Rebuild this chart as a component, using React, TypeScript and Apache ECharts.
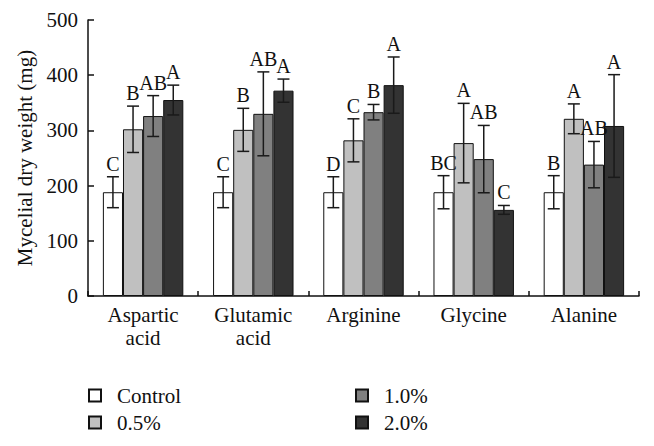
import React, { useEffect, useRef } from "react";
import * as echarts from "echarts";

const categories = ["Aspartic\nacid", "Glutamic\nacid", "Arginine", "Glycine", "Alanine"];
const seriesNames = ["Control", "0.5%", "1.0%", "2.0%"];
const controlValues = [188, 188, 188, 188, 188];
const p05Values = [302, 301, 282, 277, 321];
const p10Values = [326, 330, 333, 248, 238];
const p20Values = [355, 372, 382, 156, 308];
const controlErr = [28, 28, 28, 30, 30];
const p05Err = [42, 39, 39, 72, 27];
const p10Err = [37, 76, 14, 61, 42];
const p20Err = [27, 21, 51, 8, 93];
const controlLetters = ["C", "C", "D", "BC", "B"];
const p05Letters = ["B", "B", "C", "A", "A"];
const p10Letters = ["AB", "AB", "B", "AB", "AB"];
const p20Letters = ["A", "A", "A", "C", "A"];
const yTicks = [0, 100, 200, 300, 400, 500];

const colors = ["#ffffff", "#c0c0c0", "#808080", "#333333"];
const FONT = "Liberation Serif";
const GAP = 0.27;
const legendPos = [
  [88, 385],
  [88, 412],
  [355, 385],
  [355, 412],
];

export default function App() {
  const ref = useRef<HTMLDivElement>(null);
  useEffect(() => {
    if (!ref.current) return;
    document.body.style.margin = "0";
    const chart = echarts.init(ref.current, null, { renderer: "svg" });
    const values = [controlValues, p05Values, p10Values, p20Values];
    const errs = [controlErr, p05Err, p10Err, p20Err];
    const letters = [controlLetters, p05Letters, p10Letters, p20Letters];

    const barSeries = seriesNames.map((name, i) => ({
      name,
      type: "bar",
      data: values[i],
      barGap: "0%",
      barCategoryGap: GAP * 100 + "%",
      itemStyle: { color: colors[i], borderColor: "#111", borderWidth: 1 },
      z: 2,
    }));

    const errSeries = seriesNames.map((name, i) => ({
      name: "err" + i,
      type: "custom",
      z: 5,
      data: values[i].map((v, k) => [k, v, errs[i][k]]),
      encode: { x: 0, y: 1 },
      renderItem: (params: any, api: any) => {
        const k = api.value(0);
        const v = api.value(1);
        const e = api.value(2);
        const top = api.coord([k, v + e]);
        const bot = api.coord([k, v - e]);
        const band = api.size([1, 0])[0];
        const bw = (band * (1 - GAP)) / 4;
        const cx = top[0] - 2 * bw + (i + 0.5) * bw;
        const hw = 6;
        const st = { stroke: "#1a1a1a", lineWidth: 1.5 };
        return {
          type: "group",
          children: [
            { type: "line", shape: { x1: cx, y1: top[1], x2: cx, y2: bot[1] }, style: st },
            { type: "line", shape: { x1: cx - hw, y1: top[1], x2: cx + hw, y2: top[1] }, style: st },
            { type: "line", shape: { x1: cx - hw, y1: bot[1], x2: cx + hw, y2: bot[1] }, style: st },
            {
              type: "text",
              x: cx,
              y: top[1] - 3,
              style: {
                text: letters[i][params.dataIndex],
                fill: "#111",
                fontFamily: FONT,
                fontSize: 20,
                align: "center",
                verticalAlign: "bottom",
              },
            },
          ],
        };
      },
    }));

    const legends = seriesNames.map((name, i) => ({
      data: [name],
      orient: "horizontal",
      left: legendPos[i][0],
      top: legendPos[i][1],
      padding: 0,
      itemWidth: 12,
      itemHeight: 12,
      icon: "rect",
      textStyle: { fontFamily: FONT, fontSize: 21, color: "#111", padding: [0, 0, 0, 11] },
      selectedMode: false,
    }));

    chart.setOption({
      animation: false,
      textStyle: { fontFamily: FONT },
      grid: { left: 88, right: 15, top: 20, bottom: 150, containLabel: false },
      legend: legends,
      xAxis: {
        type: "category",
        data: categories,
        axisLine: { lineStyle: { color: "#111", width: 1.5 } },
        axisTick: { show: true, inside: true, length: 5, lineStyle: { color: "#111", width: 1.5 } },
        axisLabel: { fontFamily: FONT, fontSize: 21, color: "#111", lineHeight: 23, margin: 7 },
      },
      yAxis: {
        type: "value",
        min: yTicks[0],
        max: yTicks[yTicks.length - 1],
        interval: 100,
        name: "Mycelial dry weight (mg)",
        nameLocation: "middle",
        nameGap: 51,
        nameRotate: 90,
        nameTextStyle: { fontFamily: FONT, fontSize: 21, color: "#111" },
        splitLine: { show: false },
        axisLine: { show: true, lineStyle: { color: "#111", width: 1.5 } },
        axisTick: { show: true, inside: true, length: 6, lineStyle: { color: "#111", width: 1.5 } },
        axisLabel: { fontFamily: FONT, fontSize: 21, color: "#111", margin: 10 },
      },
      series: [...barSeries, ...errSeries],
    });
    return () => chart.dispose();
  }, []);
  return <div ref={ref} style={{ width: 654, height: 446 }} />;
}
